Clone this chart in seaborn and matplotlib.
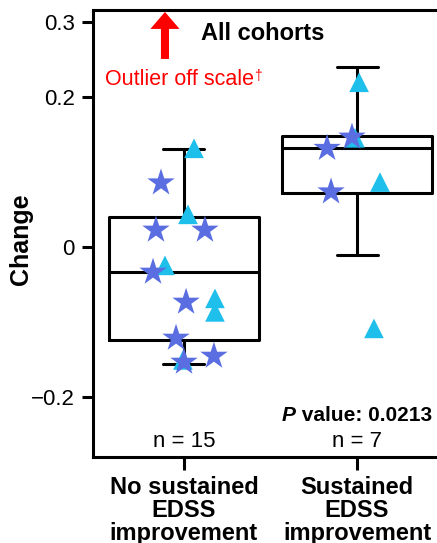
import matplotlib
matplotlib.use("Agg")
import matplotlib.pyplot as plt
import numpy as np
import pandas as pd
import seaborn as sns

groups = ["No sustained\nEDSS\nimprovement", "Sustained\nEDSS\nimprovement"]
n_labels = ["n = 15", "n = 7"]

# box summaries per group (all cohorts, outlier included)
box_whislo = [-0.155, -0.010]
box_q1 = [-0.123, 0.073]
box_med = [-0.033, 0.133]
box_q3 = [0.041, 0.149]
box_whishi = [0.131, 0.240]

# visible points: stars
star_group = [0, 0, 0, 0, 0, 0, 0, 0, 1, 1, 1]
star_change = [0.086, 0.023, 0.023, -0.033, -0.073, -0.121, -0.153, -0.145, 0.147, 0.132, 0.074]
star_jitter = [-0.133, -0.162, 0.121, -0.179, 0.012, -0.046, 0.0, 0.173, -0.029, -0.173, -0.150]

# visible points: triangles
tri_group = [0, 0, 0, 0, 0, 0, 1, 1, 1, 1]
tri_change = [0.132, 0.044, -0.024, -0.068, -0.086, -0.150, 0.220, 0.146, 0.087, -0.108]
tri_jitter = [0.058, 0.023, -0.110, 0.179, 0.179, -0.006, 0.012, -0.012, 0.133, 0.098]

p_text = " value: 0.0213"

sns.set_theme(style="ticks")
plt.rcParams["font.family"] = ["Liberation Sans", "DejaVu Sans"]
plt.rcParams["text.color"] = "black"
plt.rcParams["axes.labelcolor"] = "black"
plt.rcParams["xtick.color"] = "black"
plt.rcParams["ytick.color"] = "black"
plt.rcParams["axes.edgecolor"] = "black"

# triangles first so the stars sit on top
df = pd.DataFrame({
    "group": tri_group + star_group,
    "change": tri_change + star_change,
    "jitter": tri_jitter + star_jitter,
    "cohort": ["tri"] * len(tri_group) + ["star"] * len(star_group),
})
df["x"] = df["group"] + df["jitter"]

fig = plt.figure(figsize=(4.37, 5.43), dpi=100)
ax = fig.add_axes([93 / 437, (543 - 456.7) / 543, 355 / 437, 447.2 / 543])

lw = 2.2
stats = []
for i in range(len(groups)):
    stats.append(dict(med=box_med[i], q1=box_q1[i], q3=box_q3[i],
                      whislo=box_whislo[i], whishi=box_whishi[i], fliers=[]))
ax.bxp(stats, positions=[0, 1], widths=0.867, capwidths=0.237, showfliers=False,
       boxprops=dict(color="black", linewidth=lw),
       whiskerprops=dict(color="black", linewidth=lw),
       capprops=dict(color="black", linewidth=lw),
       medianprops=dict(color="black", linewidth=lw),
       manage_ticks=False, zorder=2)

sns.scatterplot(data=df, x="x", y="change", hue="cohort", style="cohort", size="cohort",
                palette={"tri": "#1FBFEB", "star": "#5B6EE1"},
                markers={"tri": "^", "star": "*"},
                sizes={"tri": 200, "star": 430},
                linewidth=0, legend=False, ax=ax, zorder=3)

ax.set_xlim(-0.526, 1.526)
ax.set_ylim(-0.279, 0.317)
ax.set_yticks([-0.2, 0, 0.2, 0.3], ["\u22120.2", "0", "0.2", "0.3"], fontsize=16)
ax.set_xticks([0, 1])
ax.set_xticklabels(groups, fontsize=17, fontweight="bold", linespacing=1.0)
ax.tick_params(axis="y", length=8, width=lw, pad=5, color="black", labelcolor="black")
ax.tick_params(axis="x", length=9, width=lw, pad=5, color="black", labelcolor="black")
ax.set_xlabel("")
ax.set_ylabel("")
for s in ax.spines.values():
    s.set_linewidth(lw)
    s.set_color("black")

fig.text(21 / 437, 1 - 239.5 / 543, "Change", rotation=90, ha="center", va="center",
         fontsize=18, fontweight="bold", color="black")

for i, lab in enumerate(n_labels):
    ax.text(i, -0.266, lab, ha="center", va="baseline", fontsize=16, color="black")

p = ax.text(0.566, -0.231, "P", ha="left", va="baseline", fontsize=15,
            fontweight="bold", fontstyle="italic", color="black")
ax.annotate(p_text, xy=(1, 0), xycoords=p, ha="left", va="bottom",
            fontsize=15, fontweight="bold", color="black")

ax.text(0.098, 0.2764, "All cohorts", ha="left", va="baseline", fontsize=17,
        fontweight="bold", color="black")

ax.annotate("", xy=(-0.110, 0.3137), xytext=(-0.110, 0.2511),
            arrowprops=dict(arrowstyle="simple,head_length=0.61,head_width=1.05,tail_width=0.29",
                            mutation_scale=20, color="red", lw=0, shrinkA=0, shrinkB=0))
red = ax.text(-0.457, 0.2163, "Outlier off scale", ha="left", va="baseline",
              fontsize=15.5, color="red")
ax.annotate("\u2020", xy=(1, 1), xycoords=red, ha="left", va="top",
            fontsize=10, color="red")

fig.savefig("out.png", dpi=100)
